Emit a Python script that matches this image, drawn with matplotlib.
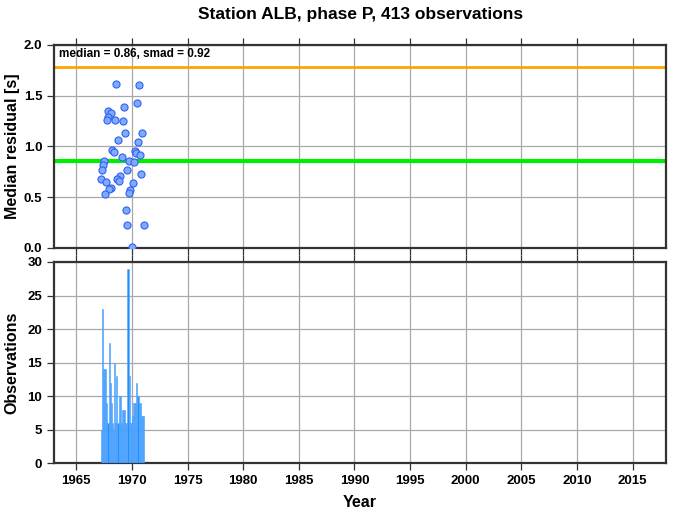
import matplotlib
matplotlib.use("Agg")
import matplotlib.pyplot as plt
import numpy as np

plt.rcParams['font.family'] = ['Liberation Sans', 'DejaVu Sans']
plt.rcParams['font.weight'] = 'bold'

# residual per event (decimal year, median residual in s)
res_years = [1968.59, 1970.60, 1970.46, 1969.31, 1967.89, 1968.16, 1967.84, 1967.75,
             1968.52, 1969.22, 1969.37, 1970.90, 1968.77, 1970.51, 1968.22, 1968.43,
             1970.27, 1970.41, 1970.69, 1969.10, 1967.50, 1969.76, 1970.21, 1967.41,
             1967.32, 1969.55, 1970.78, 1968.92, 1968.68, 1967.23, 1967.68, 1968.83,
             1970.12, 1968.10, 1967.95, 1969.85, 1969.70, 1967.59, 1969.46, 1969.58,
             1971.05, 1970.03]
res_values = [1.62, 1.61, 1.43, 1.39, 1.35, 1.33, 1.29, 1.26,
              1.26, 1.25, 1.13, 1.13, 1.06, 1.04, 0.97, 0.95,
              0.96, 0.94, 0.92, 0.90, 0.86, 0.86, 0.85, 0.82,
              0.77, 0.77, 0.73, 0.71, 0.68, 0.68, 0.65, 0.66,
              0.64, 0.59, 0.58, 0.57, 0.54, 0.53, 0.37, 0.23,
              0.23, 0.01]
median = 0.86
smad = 0.92

# observation counts per bin
first_bin = 1967.2
bin_width = 0.1
obs_counts = [5, 23, 14, 14, 14, 9, 6, 18, 12, 9, 6, 5, 15, 6, 13, 6, 10, 10, 6, 8,
              8, 8, 6, 6, 29, 13, 6, 6, 7, 9, 9, 9, 12, 10, 9, 9, 7, 7, 7]
bin_years = first_bin + bin_width * np.arange(len(obs_counts))

station = "ALB"
phase = "P"
n_obs = 413

fig = plt.figure(figsize=(6.73, 5.11), dpi=100)
ax1 = fig.add_axes([0.0802, 0.5147, 0.9094, 0.3973])
ax2 = fig.add_axes([0.0802, 0.0930, 0.9094, 0.3943])

xticks = np.arange(1965, 2016, 5)
for ax in (ax1, ax2):
    ax.set_xlim(1963, 2018)
    ax.set_xticks(xticks)
    ax.grid(True, color='#a8a8a8', linewidth=0.9)
    ax.set_axisbelow(True)
    ax.tick_params(axis='x', top=True, direction='out', length=5, width=0.9,
                   color='#333333', labelsize=9.5)
    ax.tick_params(axis='y', direction='out', length=5, width=0.9,
                   color='#333333', labelsize=9.5)
    for s in ax.spines.values():
        s.set_linewidth(1.6)
        s.set_color('#333333')

# top panel
ax1.axhline(median + smad, color='#ffa500', linewidth=2, zorder=2)
ax1.axhline(median, color='#00ee00', linewidth=3, zorder=2)
ax1.scatter(res_years, res_values, s=26, facecolor='#7eaaff', edgecolor='#3060f0',
            linewidth=0.8, zorder=3)
ax1.set_ylim(0, 2)
ax1.set_yticks(np.arange(0, 2.01, 0.5))
ax1.set_yticklabels(['%.1f' % v for v in np.arange(0, 2.01, 0.5)])
ax1.tick_params(axis='x', labelbottom=False)
ax1.set_ylabel("Median residual [s]", fontsize=11.5, fontweight='bold', va='center')
ax1.yaxis.set_label_coords(-0.068, 0.5)
ax1.text(0.008, 0.985, "median = %.2f, smad = %.2f" % (median, smad),
         transform=ax1.transAxes, ha='left', va='top', fontsize=8.5, fontweight='bold')
fig.text(0.536, 0.972, "Station %s, phase %s, %d observations" % (station, phase, n_obs),
         ha='center', va='center', fontsize=12.5, fontweight='bold')

# bottom panel
ax2.bar(bin_years, obs_counts, width=bin_width, align='edge', color='#1e90ff',
        edgecolor='#5aa8ff', linewidth=0.4, zorder=3)
ax2.set_ylim(0, 30)
ax2.set_yticks(np.arange(0, 31, 5))
ax2.set_ylabel("Observations", fontsize=11.5, fontweight='bold', va='center')
ax2.yaxis.set_label_coords(-0.068, 0.5)
ax2.set_xlabel("Year", fontsize=11.5, fontweight='bold', va='center')
ax2.xaxis.set_label_coords(0.5, -0.195)

fig.savefig("out.png", dpi=100)
